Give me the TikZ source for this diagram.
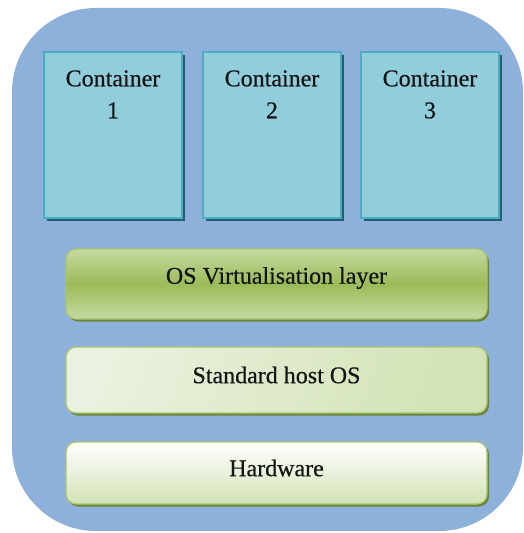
\documentclass[tikz,border=0pt]{standalone}
\usepackage{fontspec}
\setmainfont[FakeBold=0.5]{Liberation Serif}
\definecolor{bgblue}{HTML}{8DB1DA}
\definecolor{contfill}{HTML}{92CDDC}
\definecolor{contline}{HTML}{4BACC6}
\definecolor{contshadow}{HTML}{215F6C}
\definecolor{greenmid}{HTML}{9BBB59}
\definecolor{greenlight}{HTML}{C6DAA2}
\definecolor{greenline}{HTML}{A9C56F}
\definecolor{greenshadow}{HTML}{6B8536}
\definecolor{palegreen}{HTML}{EAF1DE}
\definecolor{palegreen2}{HTML}{D3E3B6}
\definecolor{txt}{HTML}{141414}
\begin{document}
\begin{tikzpicture}[x=0.5pt,y=-0.5pt,
  cont/.style={draw=contline, line width=1pt, fill=contfill, minimum width=69pt, minimum height=83pt,
    inner sep=0pt, outer sep=0pt},
  contshad/.style={fill=contshadow, minimum width=69pt, minimum height=83pt, inner sep=0pt},
  layer/.style={draw=greenline, line width=0.6pt, rounded corners=5pt, minimum width=210.5pt,
    inner sep=0pt, outer sep=0pt, font=\fontsize{12}{14}\selectfont, text=txt},
  layshad/.style={fill=greenshadow, rounded corners=5pt, minimum width=210.5pt, inner sep=0pt},
  lbl/.style={font=\fontsize{12}{16}\selectfont, text=txt, align=center, inner sep=0pt}
]
\useasboundingbox (0,0) rectangle (523,533);
% background
\fill[bgblue, rounded corners=42pt] (12,8) rectangle (523,531);
% container shadows
\node[contshad] (s1) at (116,138) {};
\node[contshad] (s2) at (275,138) {};
\node[contshad] (s3) at (433,138) {};
% containers
\node[cont] (c1) at (113,135) {};
\node[cont] (c2) at (272,135) {};
\node[cont] (c3) at (430,135) {};
\node[lbl, anchor=north] (t1) at ([yshift=-9pt]c1.north) {Container\\1};
\node[lbl, anchor=north] (t2) at ([yshift=-9pt]c2.north) {Container\\2};
\node[lbl, anchor=north] (t3) at ([yshift=-9pt]c3.north) {Container\\3};
% layer shadows
\node[layshad, minimum height=35pt] (sh1) at (278.5,286.5) {};
\node[layshad, minimum height=33pt] (sh2) at (278.5,382.5) {};
\node[layshad, minimum height=31pt] (sh3) at (278.5,475.5) {};
% layers
\node[layer, minimum height=35pt, top color=greenlight, bottom color=greenlight, middle color=greenmid] (virt) at (276.5,284) {};
\node[layer, minimum height=33pt, shading=axis, left color=palegreen, right color=palegreen2, shading angle=70] (host) at (276.5,380) {};
\node[layer, minimum height=31pt, top color=white, bottom color=palegreen2] (hw) at (276.5,473) {};
\node[lbl] (tv) at ([yshift=3pt]virt.center) {OS Virtualisation layer};
\node[lbl] (th) at ([yshift=2.5pt]host.center) {Standard host OS};
\node[lbl] (tw) at ([yshift=2.5pt]hw.center) {Hardware};
\end{tikzpicture}
\end{document}
